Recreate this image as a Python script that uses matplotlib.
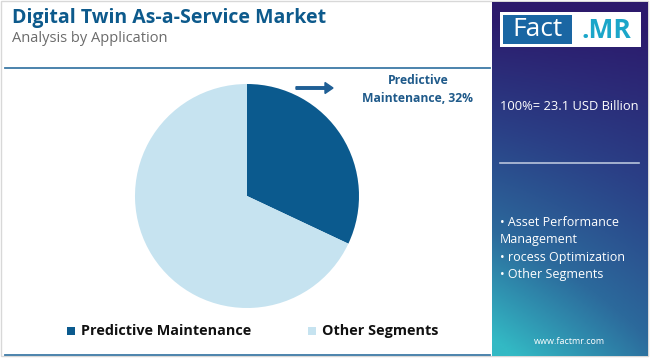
import numpy as np
import matplotlib
matplotlib.use("Agg")
import matplotlib.pyplot as plt
from matplotlib.patches import Rectangle, FancyArrow
from matplotlib.colors import LinearSegmentedColormap

# ---- data ----
categories = ["Predictive Maintenance", "Other Segments"]
shares = [32, 68]
colors = ["#0b5a8e", "#c6e3f0"]
title = "Digital Twin As-a-Service Market"
subtitle = "Analysis by Application"
total_label = "100%= 23.1 USD Billion"
other_items = ["• Asset Performance", "Management", "• rocess Optimization", "• Other Segments"]

W, H = 650, 358
fig = plt.figure(figsize=(W / 100, H / 100), dpi=100)
fig.patch.set_facecolor("white")

# overlay axes in pixel coordinates (y from top)
bg = fig.add_axes([0, 0, 1, 1])
bg.set_xlim(0, W)
bg.set_ylim(H, 0)
bg.axis("off")

# outer border
bg.add_patch(Rectangle((1, 1), W - 3, H - 3, fill=False, ec="#d8d8d8", lw=1))

# right gradient panel
px0, px1, py0, py1 = 492, 648, 2, 356
ny, nx = 200, 100
yy, xx = np.mgrid[0:1:ny * 1j, 0:1:nx * 1j]
t = np.clip(0.75 * yy + 0.35 * (1 - xx) * yy - 0.05, 0, 1)
cmap = LinearSegmentedColormap.from_list("panel", ["#2c1a6c", "#2a3f86", "#2c6a9c", "#33b9c4"])
bg.imshow(cmap(t), extent=(px0, px1, py1, py0), aspect="auto", zorder=1, interpolation="bilinear")

# logo
bg.add_patch(Rectangle((500, 12), 141, 35, fc="white", ec="none", zorder=2))
bg.add_patch(Rectangle((503, 15), 69, 29, fc="#1a66a3", ec="none", zorder=3))
bg.text(537.5, 30, "Fact", color="white", fontsize=19, ha="center", va="center",
        family="Open Sans", zorder=4)
bg.text(606, 30, ".MR", color="#1ba6c9", fontsize=19, ha="center", va="center",
        family="Open Sans", fontweight="bold", zorder=4)

bg.text(500, 107, total_label, color="white", fontsize=9.3, ha="left", va="center",
        family="Open Sans", zorder=4)
bg.plot([500, 639], [163, 163], color="#b8c4dc", lw=1.2, zorder=4)
for i, s in enumerate(other_items):
    bg.text(500, 222 + i * 17.6, s, color="white", fontsize=9, ha="left", va="center",
            family="Open Sans", zorder=4)
bg.text(569, 341, "www.factmr.com", color="white", fontsize=6.5, ha="center", va="center",
        family="Open Sans", zorder=4)

# title
bg.text(12, 18, title, color="#0d5a8c", fontsize=14, fontweight="bold", ha="left",
        va="center", family="Open Sans")
bg.text(12, 38, subtitle, color="#6b6b6b", fontsize=10.5, ha="left", va="center",
        family="Open Sans")
bg.plot([5, 490], [68, 68], color="#3d7aa6", lw=1.3)
bg.plot([5, 490], [355, 355], color="#3d7aa6", lw=1.3)

# annotation
bg.add_patch(FancyArrow(296, 88, 29, 0, width=2.5, head_width=11, head_length=8,
                        length_includes_head=False, color="#1f5f95", zorder=3))
bg.text(418, 80, "Predictive", color="#1f5a8a", fontsize=8.7, fontweight="bold",
        ha="center", va="center", family="Open Sans")
bg.text(418, 98, f"Maintenance, {shares[0]}%", color="#1f5a8a", fontsize=8.7,
        fontweight="bold", ha="center", va="center", family="Open Sans")

# legend
lx = [67, 308]
for x, c, lab in zip(lx, colors, categories):
    bg.add_patch(Rectangle((x, 327), 8, 8, fc=c, ec="none"))
    bg.text(x + 14, 331, lab, color="#111111", fontsize=10.4, fontweight="bold",
            ha="left", va="center", family="Open Sans")

# pie
cx, cy, r = 247, 196, 112
pax = fig.add_axes([(cx - r) / W, (H - cy - r) / H, 2 * r / W, 2 * r / H])
pax.pie(shares, colors=colors, startangle=90, counterclock=False, radius=1,
        wedgeprops=dict(linewidth=0))
pax.set_xlim(-1, 1)
pax.set_ylim(-1, 1)
pax.axis("off")

fig.savefig("out.png", dpi=100, facecolor="white")
